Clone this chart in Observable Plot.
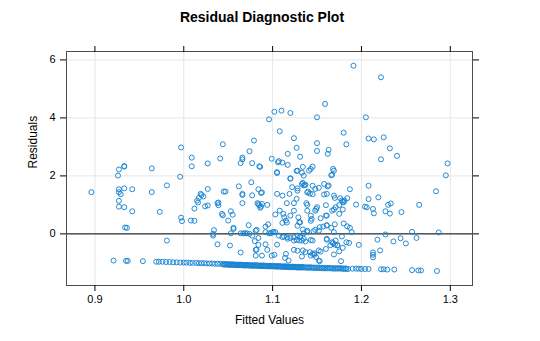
<!DOCTYPE html>
<html><head><meta charset="utf-8">
<script src="https://cdn.jsdelivr.net/npm/d3@7"></script>
<script src="https://cdn.jsdelivr.net/npm/@observablehq/plot@0.6"></script>
<style>
body{margin:0;background:#fff;width:540px;height:341px;overflow:hidden;font-family:"Liberation Sans",Arial,sans-serif;}
#title{height:34px;line-height:34px;text-align:center;font-weight:bold;font-size:14px;padding-right:16px;box-sizing:border-box;color:#000}
</style></head><body>
<div id="title">Residual Diagnostic Plot</div>
<div id="chart"></div>
<script>
const fitted = [
1.191,1.222,1.159,1.102,1.110,1.120,1.096,1.150,1.205,1.108,1.180,1.208,1.214,1.225,1.124,1.079,1.044,1.183,1.150,1.127,
0.997,1.232,1.163,1.074,1.150,1.117,1.162,1.240,1.009,1.066,1.066,1.041,1.099,1.131,1.107,1.111,1.222,1.064,1.077,1.027,
1.117,1.009,1.085,1.086,1.134,1.297,0.933,0.933,0.927,0.964,1.168,1.143,1.127,1.133,1.105,0.926,0.996,1.166,1.295,1.120,
1.120,1.134,1.136,1.137,1.076,1.062,0.981,1.027,1.128,1.145,1.152,1.162,1.187,1.208,1.084,1.087,0.927,0.933,0.942,0.927,
0.929,0.896,0.964,1.045,1.047,1.140,1.142,1.145,1.066,1.077,1.111,1.158,1.284,1.219,1.020,1.017,1.015,1.016,1.024,1.027,
1.039,1.039,1.066,1.084,1.085,1.094,1.087,1.116,1.124,1.127,1.138,1.139,1.149,1.148,1.160,1.170,1.175,1.179,1.181,1.184,
1.194,1.204,1.206,1.208,1.213,1.214,1.227,1.232,1.230,1.233,1.245,1.265,0.927,0.927,0.933,0.942,0.973,1.012,1.044,1.053,
1.050,0.997,0.998,1.008,1.012,0.934,0.936,1.056,1.073,1.034,1.082,1.092,1.095,1.103,1.108,1.112,1.113,1.115,1.111,1.129,
1.130,1.128,1.134,1.139,1.146,1.153,1.157,1.161,1.166,1.170,1.180,1.184,1.187,1.189,1.143,1.144,1.154,1.161,1.175,1.179,
1.169,1.053,1.064,1.069,1.074,1.098,1.101,1.135,1.169,1.227,1.257,1.287,1.033,0.981,1.038,1.052,1.064,1.080,1.082,1.084,
1.088,1.092,1.099,1.102,1.105,1.111,1.114,1.118,1.117,1.124,1.127,1.130,1.131,1.134,1.137,1.142,1.143,1.145,1.147,1.149,
1.152,1.154,1.153,1.161,1.165,1.168,1.170,1.169,1.173,1.175,1.179,1.183,1.186,1.178,1.177,1.197,1.213,1.213,1.213,1.218,
1.221,1.236,1.244,1.250,1.262,
1.106,1.105,1.128,1.141,1.145,1.135,1.167,1.169,1.019,1.022,1.066,1.088,1.105,1.119,1.122,1.128,1.133,1.135,1.139,1.148,
1.158,1.163,1.161,1.169,1.038,1.043,1.055,1.083,1.086,1.088,1.116,1.120,1.124,1.131,1.139,1.143,1.150,1.160,1.161,1.167,
1.171,1.033,1.056,1.067,1.071,1.077,1.081,1.084,1.092,1.096,1.100,1.103,1.107,1.113,1.116,1.120,1.124,1.128,1.131,1.133,
1.135,1.139,1.145,1.148,1.152,1.161,1.167,1.171,1.173,1.081,1.081,1.094,1.115,1.124,1.128,1.133,1.137,1.143,1.147,1.152,
1.160,1.176,1.178,1.180
];
const residuals = [
5.80,5.40,4.48,4.21,4.25,4.17,3.95,4.02,4.02,3.54,3.49,3.29,3.26,3.33,3.30,3.22,3.09,3.09,3.13,2.97,
2.98,2.95,2.90,2.85,2.86,2.76,2.76,2.69,2.63,2.63,2.57,2.60,2.59,2.66,2.51,2.46,2.57,2.44,2.44,2.43,
2.38,2.33,2.33,2.31,2.31,2.43,2.34,2.32,2.22,2.26,2.24,2.24,2.17,2.11,2.13,2.01,1.97,2.02,2.02,1.92,
1.90,1.76,1.69,1.69,1.78,1.64,1.67,1.55,1.57,1.66,1.59,1.64,1.54,1.66,1.54,1.41,1.54,1.57,1.54,1.44,
1.37,1.44,1.44,1.46,1.46,1.46,1.39,1.37,1.34,1.33,1.32,1.36,1.47,1.26,1.34,1.24,1.15,1.08,0.95,0.98,
1.08,0.99,1.06,1.03,0.99,1.00,0.94,1.06,1.06,1.21,1.06,1.00,0.86,0.80,0.99,1.24,0.99,1.11,1.15,1.23,
1.01,0.94,0.92,1.20,0.86,0.71,0.78,0.70,1.00,1.05,0.75,1.00,1.14,0.94,0.92,0.78,0.76,0.87,0.64,0.78,
0.46,0.56,0.44,0.46,0.45,0.22,0.21,0.21,0.30,0.13,0.14,0.25,0.33,0.67,0.80,0.69,0.57,0.46,0.38,0.57,
0.40,0.28,0.15,0.06,0.09,0.23,0.25,0.30,0.21,0.33,0.36,0.26,0.21,0.06,0.45,0.52,0.54,0.63,0.69,0.84,
0.84,0.02,0.02,0.02,0.00,0.02,0.06,0.02,0.06,-0.02,0.07,0.05,0.00,-0.23,-0.36,-0.40,-0.64,-0.25,-0.54,-0.38,
-0.75,-0.36,-0.75,-0.72,-0.37,-0.11,-0.83,-0.92,-0.17,-0.23,-0.21,-0.23,-0.09,-0.57,-0.26,-0.63,-0.21,-0.69,-0.72,-0.80,
-0.57,-0.61,-0.94,-0.20,-0.39,-0.32,-0.37,-0.71,-0.39,-0.60,-0.48,-0.29,-0.31,-0.09,-0.94,-0.38,-0.64,-0.72,-0.81,-0.20,
-0.57,-0.26,-0.15,-0.33,-0.14,
2.47,2.10,2.18,2.18,2.32,2.01,2.04,2.18,1.38,1.29,1.38,1.43,1.38,1.38,1.61,1.49,1.72,1.67,1.43,1.55,
1.72,1.67,1.38,1.32,1.06,0.69,0.66,1.06,0.90,1.03,0.39,0.63,0.80,0.40,0.80,0.63,0.92,0.63,0.29,0.80,
0.92,-0.06,0.17,0.02,0.02,-0.06,0.11,-0.14,0.06,0.02,0.06,0.06,-0.06,-0.09,-0.12,-0.14,-0.12,-0.06,-0.12,-0.23,
-0.17,0.11,-0.23,0.14,0.11,-0.17,-0.29,-0.23,-0.40,-0.55,-0.75,-0.55,-0.69,-0.55,-0.58,-0.78,-0.63,-0.75,-0.67,-0.92,
-0.52,1.23,1.15,1.09
];
const bandFitted = [
0.921,0.935,0.937,0.954,0.969,0.972,0.976,0.980,0.984,0.988,0.992,0.996,1.000,1.003,1.007,1.010,1.014,1.017,1.020,1.023,
1.026,1.029,1.032,1.035,1.038,1.041,1.044,1.046,1.048,1.050,1.052,1.054,1.056,1.058,1.060,1.062,1.064,1.066,1.068,1.070,
1.072,1.074,1.076,1.078,1.080,1.082,1.084,1.086,1.088,1.090,1.092,1.094,1.096,1.098,1.100,1.102,1.104,1.106,1.108,1.110,
1.112,1.114,1.116,1.118,1.120,1.122,1.124,1.126,1.128,1.130,1.132,1.134,1.137,1.140,1.143,1.146,1.149,1.152,1.155,1.158,
1.161,1.164,1.167,1.170,1.173,1.176,1.179,1.182,1.190,1.194,1.197,1.200,1.204,1.208,1.222,1.225,1.229,1.237,1.257,1.264,
1.267,1.285,
1.045,1.047,1.049,1.051,1.053,1.055,1.057,1.059,1.061,1.063,1.065,1.067,1.069,1.071,1.073,1.075,1.077,1.079,1.081,1.083,
1.085,1.087,1.089,1.091,1.093,1.095,1.097,1.099,1.101,1.103,1.105,1.107,1.109,1.111,1.113,1.115,1.117,1.119,1.121,1.123,
1.125,1.127,1.129,1.131,1.133,1.135,1.138,1.141,1.144,1.147,1.150,1.153,1.156,1.159,1.162,1.165,1.168,1.171,1.174,1.177,
1.180,1.183,1.185
];
const bandResiduals = [
-0.92,-0.93,-0.93,-0.94,-0.96,-0.96,-0.96,-0.97,-0.97,-0.98,-0.98,-0.99,-0.99,-0.99,-1.00,-1.00,-1.00,-1.01,-1.01,-1.01,
-1.02,-1.02,-1.02,-1.03,-1.03,-1.03,-1.04,-1.04,-1.04,-1.05,-1.05,-1.05,-1.05,-1.06,-1.06,-1.06,-1.06,-1.07,-1.07,-1.07,
-1.07,-1.08,-1.08,-1.08,-1.08,-1.08,-1.09,-1.09,-1.09,-1.09,-1.10,-1.10,-1.10,-1.10,-1.10,-1.11,-1.11,-1.11,-1.11,-1.12,
-1.12,-1.12,-1.12,-1.13,-1.13,-1.13,-1.13,-1.14,-1.14,-1.14,-1.14,-1.14,-1.15,-1.15,-1.15,-1.16,-1.16,-1.16,-1.17,-1.17,
-1.17,-1.17,-1.18,-1.18,-1.18,-1.18,-1.19,-1.19,-1.20,-1.20,-1.20,-1.21,-1.21,-1.21,-1.22,-1.22,-1.23,-1.23,-1.25,-1.26,
-1.26,-1.28,
-1.06,-1.06,-1.06,-1.07,-1.07,-1.07,-1.07,-1.08,-1.08,-1.08,-1.08,-1.09,-1.09,-1.09,-1.09,-1.10,-1.10,-1.10,-1.10,-1.10,
-1.11,-1.11,-1.11,-1.11,-1.12,-1.12,-1.12,-1.12,-1.12,-1.13,-1.13,-1.13,-1.13,-1.14,-1.14,-1.14,-1.14,-1.15,-1.15,-1.15,
-1.15,-1.16,-1.16,-1.16,-1.16,-1.16,-1.17,-1.17,-1.17,-1.18,-1.18,-1.18,-1.19,-1.19,-1.19,-1.19,-1.20,-1.20,-1.20,-1.20,
-1.21,-1.21,-1.21
];
const xTicks = [0.9, 1.0, 1.1, 1.2, 1.3];
const yTicks = [0, 2, 4, 6];
const xLabel = "Fitted Values";
const yLabel = "Residuals";

const data = fitted.map((f, i) => ({fitted: f, residual: residuals[i]}))
  .concat(bandFitted.map((f, i) => ({fitted: f, residual: bandResiduals[i]})));

const chart = Plot.plot({
  width: 540, height: 307,
  marginTop: 17, marginBottom: 56, marginLeft: 66, marginRight: 68,
  style: {fontFamily: '"Liberation Sans", Arial, sans-serif', fontSize: "11px", color: "#000", background: "#fff"},
  x: {domain: [0.868, 1.325]},
  y: {domain: [-1.78, 6.29]},
  marks: [
    Plot.gridX(xTicks, {stroke: "#e6e6e6", strokeOpacity: 1}),
    Plot.gridY(yTicks, {stroke: "#e6e6e6", strokeOpacity: 1}),
    Plot.ruleY([0], {stroke: "#000"}),
    Plot.dot(data, {x: "fitted", y: "residual", r: 2.5, stroke: "#1a84d2", strokeWidth: 0.95, fill: "none"}),
    Plot.frame({stroke: "#4d4d4d"}),
    Plot.axisX(xTicks, {anchor: "bottom", tickSize: 6, tickPadding: 4, tickFormat: d3.format(".1f"), label: null}),
    Plot.axisX(xTicks, {anchor: "top", tickSize: 6, tickFormat: () => "", label: null}),
    Plot.axisY(yTicks, {anchor: "left", tickSize: 6, tickPadding: 5, label: null}),
    Plot.axisY(yTicks, {anchor: "right", tickSize: 6, tickFormat: () => "", label: null}),
    Plot.text([yLabel], {frameAnchor: "left", dx: -33, rotate: -90, fontSize: 12}),
    Plot.text([xLabel], {frameAnchor: "bottom", dy: 38, fontSize: 12})
  ]
});
document.getElementById("chart").appendChild(chart);
</script>
</body></html>
